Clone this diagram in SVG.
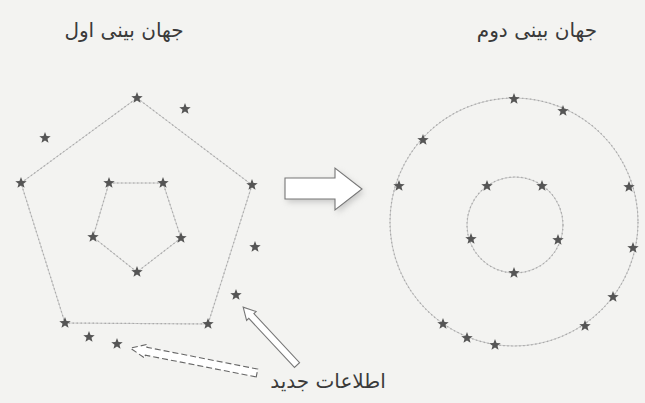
<svg xmlns="http://www.w3.org/2000/svg" width="645" height="403" viewBox="0 0 645 403">
<style>
.t{font-family:"DejaVu Sans","Noto Sans",sans-serif;font-size:20px;fill:#3a3a3a}
.dot{fill:none;stroke:#aaa;stroke-width:1.2;stroke-dasharray:1.5 2.5}
.lt{fill:none;stroke:#ccc;stroke-width:1}
.st{fill:#555}
.ha{fill:#fff;stroke:#777;stroke-width:1.1}
</style>
<defs>
<path id="s" d="M0,-6 L1.53,-2.1 L5.71,-1.85 L2.47,0.8 L3.53,4.85 L0,2.6 L-3.53,4.85 L-2.47,0.8 L-5.71,-1.85 L-1.53,-2.1 Z"/>
<filter id="sh" x="-30%" y="-30%" width="160%" height="160%"><feGaussianBlur stdDeviation="3"/></filter>
</defs>
<rect width="645" height="403" fill="#f3f3f1"/>
<g id="world1">
<text class="t" x="124" y="37" text-anchor="middle" direction="rtl">جهان بینی اول</text>
<polygon class="lt" points="137,98 252,185 208,324 65,323 21,183"/>
<polygon class="dot" points="137,98 252,185 208,324 65,323 21,183"/>
<polygon class="lt" points="109,183 163,183 181,238 137,272 93,237"/>
<polygon class="dot" points="109,183 163,183 181,238 137,272 93,237"/>
<g class="st">
<use href="#s" x="137" y="98"/><use href="#s" x="252" y="185"/><use href="#s" x="208" y="324"/><use href="#s" x="65" y="323"/><use href="#s" x="21" y="183"/>
<use href="#s" x="109" y="183"/><use href="#s" x="163" y="183"/><use href="#s" x="181" y="238"/><use href="#s" x="137" y="272"/><use href="#s" x="93" y="237"/>
<use href="#s" x="185" y="109"/><use href="#s" x="45" y="138"/><use href="#s" x="255" y="247"/><use href="#s" x="236" y="295"/><use href="#s" x="89" y="337"/><use href="#s" x="117" y="344"/>
</g>
</g>
<g id="world2">
<text class="t" x="537" y="37" text-anchor="middle" direction="rtl">جهان بینی دوم</text>
<circle class="lt" cx="514" cy="222" r="124"/>
<circle class="dot" cx="514" cy="222" r="124"/>
<circle class="lt" cx="515" cy="225" r="48"/>
<circle class="dot" cx="515" cy="225" r="48"/>
<g class="st">
<use href="#s" x="514" y="99"/><use href="#s" x="563" y="111"/><use href="#s" x="423" y="140"/><use href="#s" x="399" y="186"/>
<use href="#s" x="487" y="186"/><use href="#s" x="542" y="186"/><use href="#s" x="471" y="239"/><use href="#s" x="558" y="240"/><use href="#s" x="514" y="273"/>
<use href="#s" x="629" y="187"/><use href="#s" x="633" y="248"/><use href="#s" x="613" y="297"/><use href="#s" x="585" y="326"/><use href="#s" x="443" y="324"/><use href="#s" x="467" y="338"/><use href="#s" x="495" y="345"/>
</g>
</g>
<g id="label">
<text class="t" x="328" y="388" text-anchor="middle" direction="rtl">اطلاعات جدید</text>
</g>
<g id="connectors">
<polygon points="287,181 337,181 337,171 364,192 337,213 337,202 287,202" fill="#999" opacity="0.5" filter="url(#sh)"/>
<polygon class="ha" points="285,178 335,178 335,168 362,189 335,210 335,199 285,199"/>
<g transform="translate(297,365) rotate(-132.95)">
<path class="ha" d="M0,-3.5 L67,-3.5 L67,-6.5 L79,0 L67,6.5 L67,3.5 L0,3.5 Z"/>
</g>
<g transform="translate(257,373) rotate(-168.9)">
<path d="M0,-4 L113,-4 L113,-7 L129,0 L113,7 L113,4 L0,4 Z" fill="#fff" stroke="#666" stroke-width="1.1" stroke-dasharray="6 3"/>
</g>
</g>
</svg>
